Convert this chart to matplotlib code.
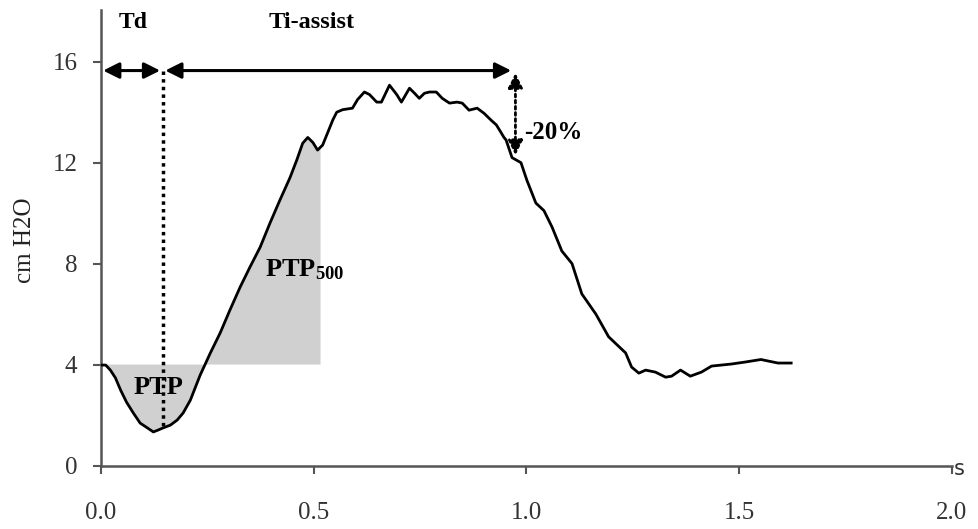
import numpy as np
import matplotlib
matplotlib.use("Agg")
import matplotlib.pyplot as plt

# ---- data ----
time_s = [0.000, 0.011, 0.022, 0.034, 0.046, 0.060, 0.076, 0.092, 0.109, 0.123,
          0.135, 0.146, 0.163, 0.179, 0.193, 0.210, 0.233, 0.257, 0.280, 0.303,
          0.327, 0.350, 0.374, 0.397, 0.420, 0.444, 0.460, 0.474, 0.486, 0.498,
          0.509, 0.521, 0.533, 0.545, 0.554, 0.568, 0.591, 0.603, 0.619, 0.631,
          0.648, 0.659, 0.678, 0.695, 0.706, 0.725, 0.737, 0.748, 0.760, 0.772,
          0.788, 0.802, 0.819, 0.837, 0.849, 0.865, 0.884, 0.900, 0.917, 0.929,
          0.940, 0.947, 0.952, 0.966, 0.987, 1.001, 1.022, 1.041, 1.060, 1.083,
          1.107, 1.130, 1.163, 1.193, 1.233, 1.247, 1.264, 1.280, 1.303, 1.327,
          1.341, 1.362, 1.385, 1.411, 1.435, 1.481, 1.514, 1.551, 1.568, 1.591,
          1.622]
pressure = [3.98, 3.98, 3.78, 3.47, 2.99, 2.51, 2.08, 1.68, 1.49, 1.33,
            1.41, 1.49, 1.60, 1.80, 2.08, 2.59, 3.58, 4.46, 5.25, 6.16,
            7.07, 7.86, 8.65, 9.60, 10.5, 11.4, 12.1, 12.77, 13.0, 12.8,
            12.5, 12.7, 13.2, 13.7, 14.0, 14.1, 14.16, 14.5, 14.8, 14.7,
            14.4, 14.4, 15.07, 14.7, 14.4, 14.95, 14.75, 14.55, 14.75, 14.8,
            14.8, 14.55, 14.36, 14.4, 14.36, 14.08, 14.16, 13.96, 13.68, 13.5,
            13.2, 13.0, 12.9, 12.2, 12.0, 11.3, 10.4, 10.1, 9.45, 8.5,
            8.0, 6.8, 6.0, 5.1, 4.46, 3.9, 3.66, 3.78, 3.7, 3.5,
            3.54, 3.78, 3.54, 3.7, 3.94, 4.02, 4.1, 4.2, 4.14, 4.06,
            4.06]
baseline = 4.0
t_trigger = 0.145       # end of Td
t_ptp500_end = 0.516    # end of the PTP500 window
t_cycle_end = 0.968     # end of Ti-assist
arrow_level = 15.65
drop_low = 12.3
xticks = [0.0, 0.5, 1.0, 1.5, 2.0]
xticklabels = ["0.0", "0.5", "1.0", "1.5", "2.0"]
yticks = [0, 4, 8, 12, 16]

t = np.array(time_s)
p = np.array(pressure)

plt.rcParams['font.family'] = ['Liberation Serif', 'DejaVu Serif']
plt.rcParams['mathtext.fontset'] = 'custom'
plt.rcParams['mathtext.rm'] = 'Liberation Serif'
plt.rcParams['mathtext.bf'] = 'Liberation Serif:bold'

fig = plt.figure(figsize=(9.79, 5.29), dpi=100)
ax = fig.add_axes([101/979, 1 - 465.5/529, (952-101)/979, (465.5-10)/529])

gray = '#d0d0d0'
rise = (t > 0.15) & (t < 0.3)
t_cross = np.interp(baseline, p[rise], t[rise])

# PTP (below baseline, from start to crossing)
m = t < t_cross
px = np.concatenate([[t[0]], t[m], [t_cross]])
py = np.concatenate([[baseline], p[m], [baseline]])
ax.fill(px, py, color=gray, lw=0, zorder=1)

# PTP500 (above baseline, from crossing to window end)
m2 = (t > t_cross) & (t < t_ptp500_end)
p_end = np.interp(t_ptp500_end, t, p)
px2 = np.concatenate([[t_cross], t[m2], [t_ptp500_end, t_ptp500_end]])
py2 = np.concatenate([[baseline], p[m2], [p_end, baseline]])
ax.fill(px2, py2, color=gray, lw=0, zorder=1)

ax.plot(t, p, color='black', lw=2.0, zorder=3)

# dotted trigger line
p_trig = np.interp(t_trigger, t, p)
ax.plot([t_trigger, t_trigger], [arrow_level, p_trig], color='black', lw=2.5,
        linestyle=(0, (1, 1.2)), zorder=4)

# horizontal arrows
aprops = dict(arrowstyle='<|-|>', color='black', lw=2.2, mutation_scale=24,
              shrinkA=0, shrinkB=0)
ax.annotate('', xy=(0.005, arrow_level), xytext=(t_trigger - 0.006, arrow_level),
            arrowprops=aprops, zorder=5)
ax.annotate('', xy=(t_trigger + 0.006, arrow_level), xytext=(t_cycle_end - 0.004, arrow_level),
            arrowprops=aprops, zorder=5)
# vertical -20% arrow
vprops = dict(arrowstyle='<|-|>', color='black', lw=2.0, mutation_scale=22,
              shrinkA=0, shrinkB=0, linestyle=(0, (1, 1.2)))
ax.annotate('', xy=(t_cycle_end + 0.006, arrow_level - 0.1), xytext=(t_cycle_end + 0.006, drop_low),
            arrowprops=vprops, zorder=5)

ax.text(0.076, 17.55, 'Td', ha='center', va='center', fontweight='bold', fontsize=17)
ax.text(0.495, 17.55, 'Ti-assist', ha='center', va='center', fontweight='bold', fontsize=17.5)
ax.text(0.995, 13.2, '-20%', ha='left', va='center', fontweight='bold', fontsize=18)
ax.text(0.135, 3.1, 'PTP', ha='center', va='center', zorder=6, fontweight='bold', fontsize=19)
ax.text(0.385, 7.75, r'$\mathbf{PTP_{500}}$', ha='left', va='center', fontsize=19, zorder=6)

ax.set_xlim(0, 2.0)
ax.set_ylim(0, 18.05)
ax.set_xticks(xticks)
ax.set_xticklabels(xticklabels)
ax.set_yticks(yticks)
for s in ['top', 'right']:
    ax.spines[s].set_visible(False)
for s in ['left', 'bottom']:
    ax.spines[s].set_color('#555555')
    ax.spines[s].set_linewidth(1.8)
ax.tick_params(axis='x', direction='out', length=6, width=1.5, color='#555555',
               labelsize=18, pad=20, labelcolor='#333333')
ax.tick_params(axis='y', direction='out', length=6, width=1.5, color='#555555',
               labelsize=18, pad=11, labelcolor='#333333')
ax.text(2.018, -0.15, 's', ha='center', va='center', fontsize=15,
        family='DejaVu Sans', color='#333333', clip_on=False)
fig.text(25/979, 1 - 240/529, 'cm H2O', rotation=90, ha='center', va='center',
         fontsize=18, color='#222222')

fig.savefig('out.png', dpi=100)
